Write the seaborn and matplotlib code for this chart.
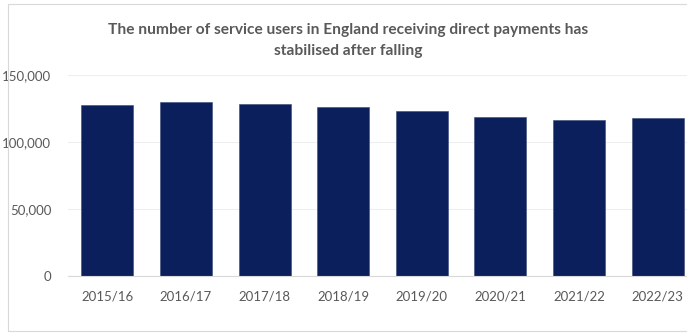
import matplotlib
matplotlib.use("Agg")
import matplotlib.pyplot as plt
import seaborn as sns
import pandas as pd
from matplotlib.ticker import FuncFormatter, FixedLocator
from matplotlib.patches import Rectangle

years = ["2015/16", "2016/17", "2017/18", "2018/19", "2019/20", "2020/21", "2021/22", "2022/23"]
users = [127500, 130000, 128600, 126400, 123000, 118300, 116700, 117500]
yticks = [0, 50000, 100000, 150000]

df = pd.DataFrame({"year": years, "users": users})

sns.set_theme(style="white")
plt.rcParams['font.family'] = ['Lato', 'DejaVu Sans']

W, H = 687, 334
fig = plt.figure(figsize=(W / 100, H / 100), dpi=100)
fig.patch.set_facecolor("white")

# outer chart border
fig.add_artist(Rectangle((8 / W, 1 - 331 / H), 1.2, (331 - 4) / H, transform=fig.transFigure,
                         fill=False, edgecolor="#d9d9d9", linewidth=0.8))

left, right = 68, 697
top, bottom = 75, 275.7
ax = fig.add_axes([left / W, 1 - bottom / H, (right - left) / W, (bottom - top) / H])

sns.barplot(data=df, x="year", y="users", color="#0B1F5C", saturation=1, width=0.66,
            edgecolor="#3a4a7a", linewidth=0.4, ax=ax)

ax.set_ylim(0, 150000)
ax.set_xlim(-0.5, len(years) - 0.5)
ax.set_yticks(yticks)
ax.yaxis.set_major_formatter(FuncFormatter(lambda v, p: f"{int(v):,}"))
ax.grid(axis="y", color="#eeeeee", linewidth=0.8)
ax.set_axisbelow(True)
for s in ["top", "right", "left"]:
    ax.spines[s].set_visible(False)
ax.spines["bottom"].set_color("#d9d9d9")
ax.spines["bottom"].set_linewidth(0.8)

ax.set_xlabel("")
ax.set_ylabel("")
ax.tick_params(axis="y", length=0, labelsize=9.5, labelcolor="#595959", pad=12)
ax.tick_params(axis="x", which="major", length=0, labelsize=9.5, labelcolor="#595959", pad=11)
ax.xaxis.set_minor_locator(FixedLocator([i - 0.5 for i in range(len(years) + 1)]))
ax.tick_params(axis="x", which="minor", length=5, color="#d9d9d9", width=0.8)

fig.text(348 / W, 1 - 30 / H, "The number of service users in England receiving direct payments has",
         ha="center", va="center", fontsize=11.2, fontweight="bold", color="#595959")
fig.text(348 / W, 1 - 51 / H, "stabilised after falling",
         ha="center", va="center", fontsize=11.2, fontweight="bold", color="#595959")

fig.savefig("out.png", dpi=100, facecolor="white")
